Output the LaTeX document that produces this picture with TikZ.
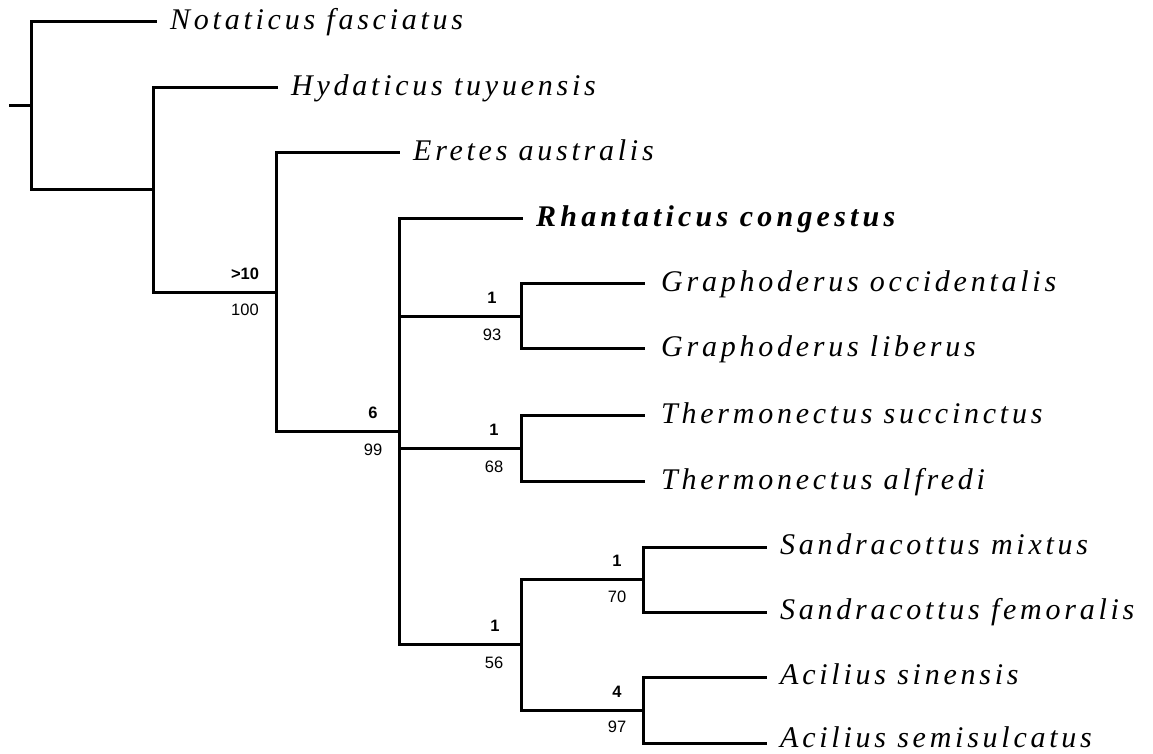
\documentclass[tikz,border=0pt]{standalone}
\usepackage{fontspec}
\setmainfont{Liberation Serif}
\newfontfamily\taxfont[LetterSpace=12.5]{Liberation Serif}
\newfontfamily\taxboldfont[LetterSpace=14]{Liberation Serif}
\newfontfamily\numfont{Liberation Sans}
\begin{document}
\begin{tikzpicture}[x=1pt,y=-1pt,
  br/.style={line width=3pt,line cap=rect},
  taxon/.style={anchor=base west,inner sep=0pt,font=\fontsize{30}{30}\selectfont\taxfont\itshape},
  bs/.style={inner sep=0pt,font=\fontsize{16.5}{16.5}\selectfont\numfont\bfseries},
  bt/.style={inner sep=0pt,font=\fontsize{16.5}{16.5}\selectfont\numfont}]
\useasboundingbox (0,0) rectangle (1153,754);
% internal nodes
\coordinate (stub) at (10,106);
\coordinate (A) at (31,106);
\coordinate (B) at (153,190);
\coordinate (C) at (276,292);
\coordinate (D) at (399,431);
\coordinate (E) at (521,316);
\coordinate (F) at (521,448);
\coordinate (G) at (521,644);
\coordinate (H) at (643,579);
\coordinate (I) at (643,710);
% tip ends
\coordinate (t1) at (155,22);
\coordinate (t2) at (276,88);
\coordinate (t3) at (398,153);
\coordinate (t4) at (521,218);
\coordinate (t5) at (643,283);
\coordinate (t6) at (643,348);
\coordinate (t7) at (643,415);
\coordinate (t8) at (643,481);
\coordinate (t9) at (765,547);
\coordinate (t10) at (765,612);
\coordinate (t11) at (765,677);
\coordinate (t12) at (765,743);
% labels
\node[taxon] (n1) at ([xshift=15pt,yshift=-8pt]t1) {Notaticus fasciatus};
\node[taxon] (n2) at ([xshift=15pt,yshift=-8pt]t2) {Hydaticus tuyuensis};
\node[taxon] (n3) at ([xshift=15pt,yshift=-8pt]t3) {Eretes australis};
\node[taxon,font=\fontsize{30}{30}\selectfont\taxboldfont\bfseries\itshape] (n4) at ([xshift=15pt,yshift=-8pt]t4) {Rhantaticus congestus};
\node[taxon] (n5) at ([xshift=18pt,yshift=-8pt]t5) {Graphoderus occidentalis};
\node[taxon] (n6) at ([xshift=18pt,yshift=-8pt]t6) {Graphoderus liberus};
\node[taxon] (n7) at ([xshift=18pt,yshift=-8pt]t7) {Thermonectus succinctus};
\node[taxon] (n8) at ([xshift=18pt,yshift=-8pt]t8) {Thermonectus alfredi};
\node[taxon] (n9) at ([xshift=15pt,yshift=-7pt]t9) {Sandracottus mixtus};
\node[taxon] (n10) at ([xshift=15pt,yshift=-7pt]t10) {Sandracottus femoralis};
\node[taxon] (n11) at ([xshift=15pt,yshift=-7pt]t11) {Acilius sinensis};
\node[taxon] (n12) at ([xshift=15pt,yshift=-4pt]t12) {Acilius semisulcatus};
% branches
\draw[br] (stub) -- (A);
\draw[br] (A) |- (t1);
\draw[br] (A) |- (B);
\draw[br] (B) |- (t2);
\draw[br] (B) |- (C);
\draw[br] (C) |- (t3);
\draw[br] (C) |- (D);
\draw[br] (D) |- (t4);
\draw[br] (D) |- (E);
\draw[br] (D) |- (F);
\draw[br] (D) |- (G);
\draw[br] (E) |- (t5);
\draw[br] (E) |- (t6);
\draw[br] (F) |- (t7);
\draw[br] (F) |- (t8);
\draw[br] (G) |- (H);
\draw[br] (G) |- (I);
\draw[br] (H) |- (t9);
\draw[br] (H) |- (t10);
\draw[br] (I) |- (t11);
\draw[br] (I) |- (t12);
% support values
\node[bs] (sC) at (245,274) {>10};
\node[bt] (vC) at (245,310) {100};
\node[bs] (sD) at (373,413) {6};
\node[bt] (vD) at (373,450) {99};
\node[bs] (sE) at (492,298) {1};
\node[bt] (vE) at (492,335) {93};
\node[bs] (sF) at (494,430) {1};
\node[bt] (vF) at (494,467) {68};
\node[bs] (sG) at (495,626) {1};
\node[bt] (vG) at (494,663) {56};
\node[bs] (sH) at (617,561) {1};
\node[bt] (vH) at (617,597) {70};
\node[bs] (sI) at (617,692) {4};
\node[bt] (vI) at (617,727) {97};
\end{tikzpicture}
\end{document}
